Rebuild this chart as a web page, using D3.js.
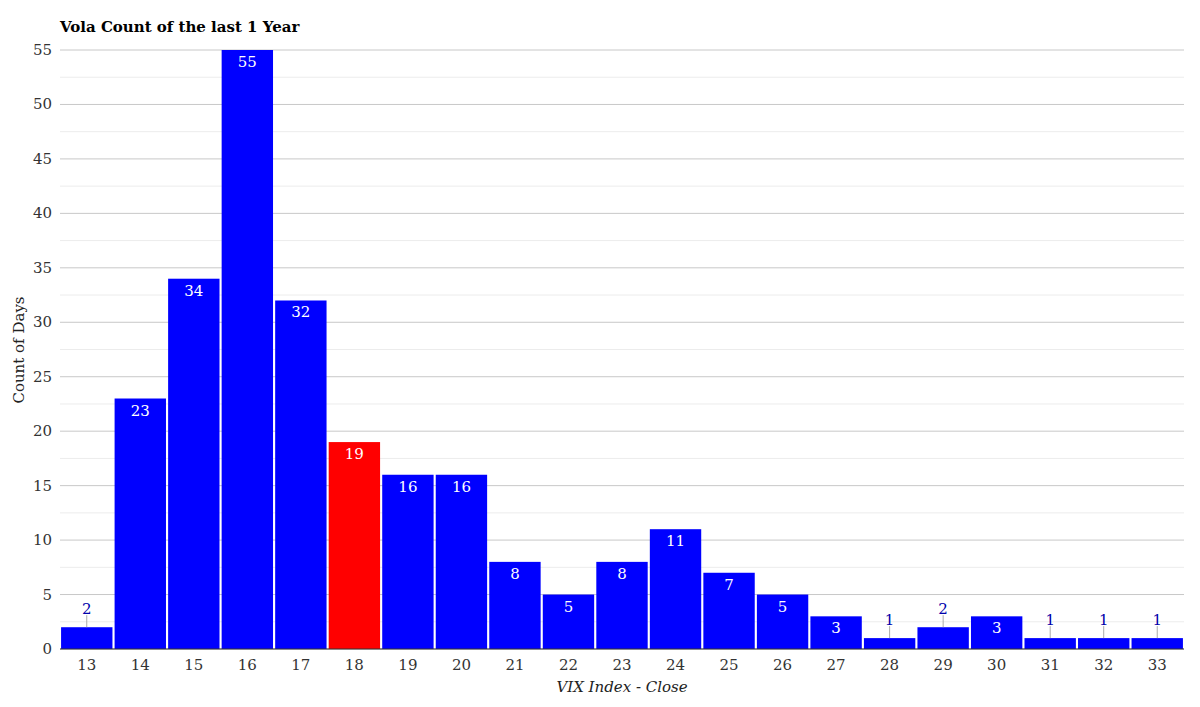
<!DOCTYPE html>
<html><head><meta charset="utf-8">
<script src="https://cdn.jsdelivr.net/npm/d3@7"></script>
<style>body{margin:0;background:#fff}text{font-family:"DejaVu Serif",serif}</style>
</head><body><svg id="c" width="1200" height="707"></svg>
<script>
const categories=["13","14","15","16","17","18","19","20","21","22","23","24","25","26","27","28","29","30","31","32","33"];
const counts=[2,23,34,55,32,19,16,16,8,5,8,11,7,5,3,1,2,3,1,1,1];
const highlight="18";
const yTicks=[0,5,10,15,20,25,30,35,40,45,50,55];
const svg=d3.select("#c");
const m={l:60,r:1184,t:50,b:649};
const x=d3.scaleBand().domain(categories).range([m.l,m.r]).paddingInner(0.04).paddingOuter(0.02);
const y=d3.scaleLinear().domain([0,55]).range([m.b,m.t]);
const minor=d3.range(2.5,55,5);
svg.selectAll(".mn").data(minor).join("line").attr("x1",m.l).attr("x2",m.r).attr("y1",d=>y(d)).attr("y2",d=>y(d)).attr("stroke","#ececec");
svg.selectAll(".mj").data(yTicks).join("line").attr("x1",m.l).attr("x2",m.r).attr("y1",d=>y(d)).attr("y2",d=>y(d)).attr("stroke","#c8c8c8");
svg.selectAll(".yt").data(yTicks).join("text").attr("x",52).attr("y",d=>y(d)+5).attr("text-anchor","end").attr("font-size",15).attr("fill","#333").text(d=>d);
svg.selectAll(".bar").data(counts).join("rect").attr("x",(d,i)=>x(categories[i])).attr("width",x.bandwidth()).attr("y",d=>y(d)).attr("height",d=>m.b-y(d)).attr("fill",(d,i)=>categories[i]===highlight?"#ff0000":"#0000ff");
svg.append("line").attr("x1",m.l).attr("x2",m.r).attr("y1",m.b).attr("y2",m.b).attr("stroke","#333");
counts.forEach((d,i)=>{
  const cx=x(categories[i])+x.bandwidth()/2;
  if(d>=3){
    svg.append("text").attr("x",cx).attr("y",y(d)+17).attr("text-anchor","middle").attr("font-size",15).attr("fill","#fff").text(d);
  } else {
    svg.append("line").attr("x1",cx).attr("x2",cx).attr("y1",y(d)-12).attr("y2",y(d)).attr("stroke","#aaa");
    svg.append("text").attr("x",cx).attr("y",y(d)-13).attr("text-anchor","middle").attr("font-size",15).attr("fill","#0000aa").text(d);
  }
});
svg.selectAll(".xt").data(categories).join("text").attr("x",d=>x(d)+x.bandwidth()/2).attr("y",670).attr("text-anchor","middle").attr("font-size",15).attr("fill","#333").text(d=>d);
svg.append("text").attr("x",622).attr("y",692).attr("text-anchor","middle").attr("font-size",15).attr("font-style","italic").attr("fill","#222").text("VIX Index - Close");
svg.append("text").attr("transform","translate(24,350) rotate(-90)").attr("text-anchor","middle").attr("font-size",15).attr("fill","#222").text("Count of Days");
svg.append("text").attr("x",60).attr("y",32).attr("font-size",15).attr("font-weight","bold").attr("fill","#000").text("Vola Count of the last 1 Year");
</script></body></html>
